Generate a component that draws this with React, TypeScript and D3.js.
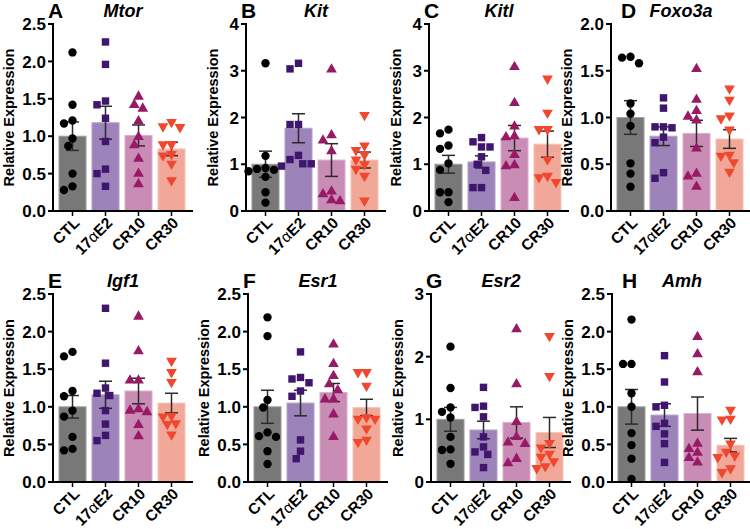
import React from "react";
import * as d3 from "d3";

const groups = ["CTL", "17αE2", "CR10", "CR30"];
const genes = ["Mtor", "Kit", "Kitl", "Foxo3a", "Igf1", "Esr1", "Esr2", "Amh"];
const letters = ["A", "B", "C", "D", "E", "F", "G", "H"];
const yMaxes = [2.5, 4, 4, 2, 2.5, 2.5, 3, 2.5];
const yTickSteps = [0.5, 1, 1, 0.5, 0.5, 0.5, 1, 0.5];

const barColors = ["#787878", "#9c83b9", "#c98cb5", "#f1a898"];
const barStrokes = ["#a0a0a0", "#b7a4cf", "#ddb0cc", "#f8c6ba"];
const dotColors = ["#000000", "#40156e", "#981a67", "#f0472e"];

const means = [
  [1.0, 1.18, 1.01, 0.83],
  [1.0, 1.77, 1.09, 1.09],
  [1.0, 1.05, 1.56, 1.43],
  [1.0, 0.8, 0.83, 0.77],
  [1.0, 1.16, 1.21, 1.05],
  [1.0, 1.05, 1.19, 0.99],
  [1.0, 0.83, 0.95, 0.79],
  [1.0, 0.89, 0.91, 0.49],
];
const sems = [
  [0.19, 0.22, 0.14, 0.09],
  [0.28, 0.31, 0.35, 0.17],
  [0.19, 0.13, 0.27, 0.28],
  [0.18, 0.1, 0.14, 0.1],
  [0.15, 0.18, 0.17, 0.13],
  [0.22, 0.17, 0.12, 0.11],
  [0.19, 0.14, 0.25, 0.24],
  [0.23, 0.15, 0.22, 0.09],
];

const mtorPts = [
  [2.12, 1.42, 1.21, 1.17, 0.97, 0.87, 0.5, 0.33, 0.28],
  [2.26, 1.96, 1.47, 1.42, 1.24, 0.93, 0.56, 0.5, 0.33],
  [1.53, 1.42, 1.37, 1.2, 0.99, 0.88, 0.7, 0.5, 0.36],
  [1.19, 1.13, 1.12, 0.89, 0.89, 0.76, 0.74, 0.63, 0.41],
];
const kitPts = [
  [3.16, 1.18, 0.92, 0.9, 0.88, 0.85, 0.73, 0.4, 0.18],
  [3.16, 3.04, 1.85, 1.85, 1.19, 1.1, 1.01, 1.01, 0.96],
  [3.03, 1.62, 1.51, 1.28, 0.42, 0.36, 0.23, 0.21],
  [2.05, 1.4, 1.3, 1.2, 1.1, 1.0, 0.9, 0.75, 0.22],
];
const kitlPts = [
  [1.74, 1.66, 1.4, 1.33, 1.02, 0.88, 0.4, 0.4, 0.19],
  [1.57, 1.48, 1.37, 1.37, 1.16, 1.0, 0.87, 0.5, 0.5],
  [3.08, 2.31, 1.81, 1.6, 1.58, 1.2, 0.98, 0.96, 0.28],
  [2.83, 2.1, 1.75, 1.75, 1.1, 0.75, 0.72, 0.62],
];
const foxo3aPts = [
  [1.65, 1.64, 1.58, 1.15, 1.04, 0.91, 0.51, 0.4, 0.26],
  [1.21, 1.1, 0.9, 0.9, 0.89, 0.79, 0.73, 0.41, 0.35],
  [1.52, 1.19, 1.07, 1.01, 0.97, 0.67, 0.4, 0.37, 0.26],
  [1.31, 1.19, 1.02, 0.99, 0.87, 0.6, 0.59, 0.52, 0.42],
];
const igf1Pts = [
  [1.73, 1.67, 1.21, 1.14, 0.95, 0.87, 0.6, 0.44, 0.42],
  [2.31, 1.58, 1.25, 1.18, 1.15, 0.95, 0.77, 0.62, 0.55],
  [2.2, 1.74, 1.35, 1.35, 0.97, 0.95, 0.93, 0.76, 0.61],
  [1.61, 1.46, 1.33, 0.88, 0.87, 0.78, 0.77, 0.63],
];
const esr1Pts = [
  [2.19, 1.94, 1.09, 0.99, 0.66, 0.61, 0.6, 0.41, 0.24],
  [1.73, 1.39, 1.37, 1.32, 1.21, 1.14, 0.56, 0.41, 0.31],
  [1.83, 1.57, 1.41, 1.3, 1.22, 1.1, 1.1, 0.9, 0.6],
  [1.46, 1.46, 1.28, 0.86, 0.84, 0.84, 0.71, 0.56, 0.53],
];
const esr2Pts = [
  [2.16, 1.5, 1.19, 1.12, 1.03, 0.72, 0.52, 0.51, 0.29],
  [1.51, 1.21, 1.19, 1.04, 0.72, 0.56, 0.48, 0.44, 0.23],
  [2.44, 1.56, 0.96, 0.72, 0.63, 0.61, 0.37, 0.3],
  [2.33, 1.69, 0.62, 0.55, 0.45, 0.4, 0.33, 0.25, 0.22],
];
const amhPts = [
  [2.16, 1.57, 1.57, 1.18, 1.0, 0.65, 0.49, 0.31, 0.04],
  [1.68, 1.33, 1.02, 1.0, 0.78, 0.74, 0.64, 0.51, 0.26],
  [1.93, 1.7, 1.46, 0.51, 0.44, 0.39, 0.32, 0.26],
  [0.96, 0.84, 0.83, 0.51, 0.4, 0.35, 0.33, 0.18, 0.13],
];
const allPoints = [mtorPts, kitPts, kitlPts, foxo3aPts, igf1Pts, esr1Pts, esr2Pts, amhPts];

const W = 750;
const H = 529;
const FONT = "'Liberation Sans', Arial, Helvetica, sans-serif";
const axisXs = [
  [53, 246, 429, 611],
  [53, 248, 431, 612],
];
const rowTops = [24, 294];
const rowBottoms = [211, 482];

const symbolTypes = [d3.symbolCircle, d3.symbolSquare, d3.symbolTriangle, d3.symbolTriangle];
const symbolSizes = [55, 55, 50, 50];

function swarm(vals: number[], y: (v: number) => number, d: number): number[] {
  const order = vals.map((_, i) => i).sort((a, b) => vals[b] - vals[a]);
  const placed: { x: number; y: number }[] = [];
  const out: number[] = new Array(vals.length).fill(0);
  const cands: number[] = [0];
  for (let k = 1; k <= 8; k++) cands.push(-k * d * 0.5, k * d * 0.5);
  for (const i of order) {
    const py = y(vals[i]);
    let chosen = 0;
    for (const c of cands) {
      const ok = placed.every((p) => Math.hypot(p.x - c, p.y - py) >= d);
      if (ok) {
        chosen = c;
        break;
      }
    }
    placed.push({ x: chosen, y: py });
    out[i] = chosen;
  }
  return out;
}

function Panel({ idx }: { idx: number }) {
  const row = Math.floor(idx / 4);
  const col = idx % 4;
  const ax = axisXs[row][col];
  const top = rowTops[row];
  const bottom = rowBottoms[row];
  const yMax = yMaxes[idx];
  const step = yTickSteps[idx];
  const y = d3.scaleLinear().domain([0, yMax]).range([bottom, top]);
  const x = d3
    .scaleBand<string>()
    .domain(groups)
    .range([ax + 3, ax + 135])
    .paddingInner(0.18)
    .paddingOuter(0.09);
  const ticks = d3.range(0, yMax + step / 2, step);
  const fmt = step < 1 ? d3.format(".1f") : d3.format("d");
  const labelOffset = step < 1 ? 44 : 33;
  const axisEnd = ax + 140;
  const bw = x.bandwidth();
  const cap = 6.5;
  const pts = allPoints[idx];

  return (
    <g>
      {groups.map((g, gi) => (
        <rect
          key={"bar" + g}
          x={x(g)}
          y={y(means[idx][gi])}
          width={bw}
          height={y(0) - y(means[idx][gi])}
          fill={barColors[gi]}
          stroke={barStrokes[gi]}
          strokeWidth={1}
        />
      ))}
      {groups.map((g, gi) => {
        const cx = (x(g) as number) + bw / 2;
        const m = means[idx][gi];
        const s = sems[idx][gi];
        return (
          <g key={"err" + g} stroke="#2b2b2b" strokeWidth={1.5}>
            <line x1={cx} x2={cx} y1={y(m + s)} y2={y(m - s)} />
            <line x1={cx - cap} x2={cx + cap} y1={y(m + s)} y2={y(m + s)} />
            <line x1={cx - cap} x2={cx + cap} y1={y(m - s)} y2={y(m - s)} />
          </g>
        );
      })}
      {groups.map((g, gi) => {
        const cx = (x(g) as number) + bw / 2;
        const vals = pts[gi];
        const offs = swarm(vals, y, 8.5);
        const path = d3.symbol().type(symbolTypes[gi]).size(symbolSizes[gi])() as string;
        return (
          <g key={"pts" + g} fill={dotColors[gi]}>
            {vals.map((v, vi) => (
              <path
                key={vi}
                d={path}
                transform={`translate(${cx + offs[vi]},${y(v)})${gi === 3 ? " rotate(180)" : ""}`}
              />
            ))}
          </g>
        );
      })}
      <line x1={ax} x2={ax} y1={top - 1} y2={bottom + 1} stroke="#000" strokeWidth={2} />
      {ticks.map((t) => (
        <g key={"yt" + t}>
          <line x1={ax - 5} x2={ax} y1={y(t)} y2={y(t)} stroke="#000" strokeWidth={2} />
          <text
            x={ax - 7}
            y={y(t)}
            dy="0.36em"
            textAnchor="end"
            fontFamily={FONT}
            fontWeight="bold"
            fontSize={17}
          >
            {fmt(t)}
          </text>
        </g>
      ))}
      <line x1={ax - 1} x2={axisEnd} y1={bottom} y2={bottom} stroke="#000" strokeWidth={2} />
      {groups.map((g, gi) => {
        const cx = (x(g) as number) + bw / 2;
        return (
          <g key={"xt" + g}>
            <line x1={cx} x2={cx} y1={bottom} y2={bottom + 5} stroke="#000" strokeWidth={1.5} />
            <text
              transform={`translate(${cx + 4},${bottom + 9}) rotate(-45)`}
              textAnchor="end"
              dy="0.35em"
              fontFamily={FONT}
              fontWeight="bold"
              fontSize={15.5}
            >
              {gi === 1 ? (
                <>
                  17<tspan fontWeight="normal">α</tspan>E2
                </>
              ) : (
                g
              )}
            </text>
          </g>
        );
      })}
      <text
        transform={`translate(${ax - labelOffset},${(top + bottom) / 2}) rotate(-90)`}
        textAnchor="middle"
        dominantBaseline="central"
        fontFamily={FONT}
        fontWeight="bold"
        fontSize={14.5}
      >
        Relative Expression
      </text>
      <text
        x={col === 3 ? ax + 10 : ax - 5}
        y={top - 6}
        fontFamily={FONT}
        fontWeight="bold"
        fontSize={21}
      >
        {letters[idx]}
      </text>
      <text
        x={col === 3 ? ax + 70 : (ax + axisEnd) / 2}
        y={top - 7}
        textAnchor="middle"
        fontFamily={FONT}
        fontWeight="bold"
        fontStyle="italic"
        fontSize={18}
      >
        {genes[idx]}
      </text>
    </g>
  );
}

export default function App() {
  return (
    <div style={{ position: "absolute", left: 0, top: 0 }}>
      <svg width={W} height={H} viewBox={`0 0 ${W} ${H}`} style={{ display: "block", background: "#fff" }}>
        {genes.map((_, i) => (
          <Panel key={i} idx={i} />
        ))}
      </svg>
    </div>
  );
}
